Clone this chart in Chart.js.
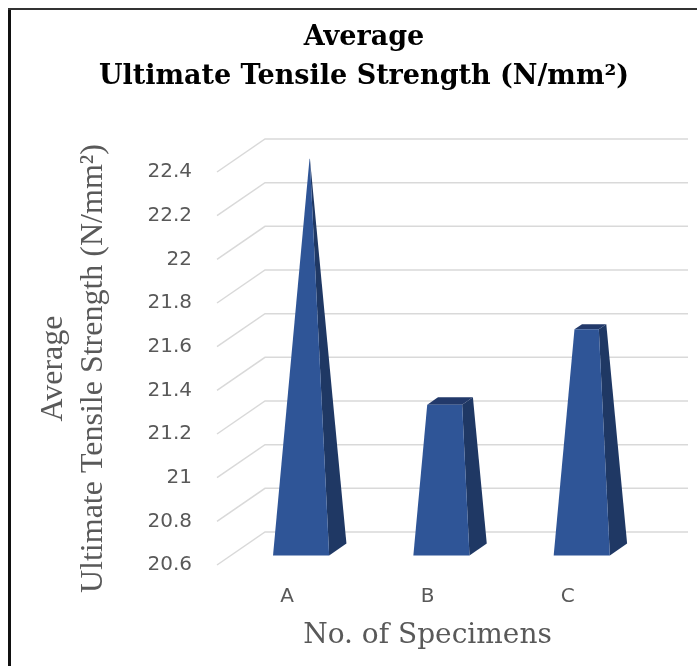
<!DOCTYPE html>
<html>
<head>
<meta charset="utf-8">
<script src="https://cdn.jsdelivr.net/npm/chart.js@4/dist/chart.umd.min.js"></script>
<style>
  html, body { margin: 0; padding: 0; background: #ffffff; }
  #wrap { width: 697px; height: 666px; position: relative; }
</style>
</head>
<body>
<div id="wrap"><canvas id="c" width="697" height="666"></canvas></div>
<script>
// ---- data ----
const categories = ['A', 'B', 'C'];
const avgUTS = [22.39, 21.28, 21.62];
const yTickValues = [20.6, 20.8, 21.0, 21.2, 21.4, 21.6, 21.8, 22.0, 22.2, 22.4];
const chartTitle = ['Average', 'Ultimate Tensile Strength (N/mm²)'];
const yTitle = ['Average', 'Ultimate Tensile Strength (N/mm²)'];
const xTitle = 'No. of Specimens';

// ---- styles ----
const DEPTH = { dx: 48, dy: -33 };      // depth of the 3D plot box
const BAR_F0 = 0.29, BAR_F1 = 0.65;     // bar depth range within the box
const GRID_COLOR = '#D9D9D9';
const FRONT = '#2F5597', SIDE = '#1F3864', TOP = '#22396A';
const TEXT_GRAY = '#595959';

const framePlugin = {
  id: 'frame',
  beforeDraw(chart) {
    const ctx = chart.ctx;
    ctx.save();
    ctx.fillStyle = '#ffffff';
    ctx.fillRect(0, 0, chart.width, chart.height);
    ctx.fillStyle = '#111111';
    ctx.fillRect(8, 8, 3, chart.height - 8);
    ctx.fillStyle = '#333333';
    ctx.fillRect(8, 8, chart.width - 8, 2);
    ctx.restore();
  }
};

const gridPlugin = {
  id: 'grid3d',
  beforeDatasetsDraw(chart) {
    const { ctx, chartArea, scales } = chart;
    const y = scales.y;
    ctx.save();
    ctx.strokeStyle = GRID_COLOR;
    ctx.lineWidth = 1.5;
    y.ticks.forEach(t => {
      const py = y.getPixelForValue(t.value);
      ctx.beginPath();
      ctx.moveTo(chartArea.left, py);
      ctx.lineTo(chartArea.left + DEPTH.dx, py + DEPTH.dy);
      ctx.lineTo(chartArea.right + DEPTH.dx + 2, py + DEPTH.dy);
      ctx.stroke();
    });
    ctx.restore();
  }
};

const pyramidPlugin = {
  id: 'pyramids',
  afterDatasetsDraw(chart) {
    const { ctx, scales } = chart;
    const y = scales.y;
    const meta = chart.getDatasetMeta(0);
    const vals = chart.data.datasets[0].data;
    const yb = y.getPixelForValue(y.min);
    const fm = (BAR_F0 + BAR_F1) / 2, hd = (BAR_F1 - BAR_F0) / 2;
    ctx.save();
    meta.data.forEach((bar, i) => {
      const v = vals[i];
      const cx = bar.x, hw = bar.width / 2;
      const H = yb - y.getPixelForValue(v);
      const s = 1 - (v - y.min) / (y.max - y.min);
      const P = (u, f, h) => [cx + u + f * DEPTH.dx, yb - h + f * DEPTH.dy];
      const poly = (pts, col) => {
        ctx.beginPath();
        ctx.moveTo(pts[0][0], pts[0][1]);
        for (let k = 1; k < pts.length; k++) ctx.lineTo(pts[k][0], pts[k][1]);
        ctx.closePath();
        ctx.fillStyle = col;
        ctx.fill();
      };
      // right side
      poly([P(hw, BAR_F0, 0), P(hw, BAR_F1, 0), P(hw * s, fm + hd * s, H), P(hw * s, fm - hd * s, H)], SIDE);
      // top
      poly([P(-hw * s, fm - hd * s, H), P(hw * s, fm - hd * s, H), P(hw * s, fm + hd * s, H), P(-hw * s, fm + hd * s, H)], TOP);
      // front
      poly([P(-hw, BAR_F0, 0), P(hw, BAR_F0, 0), P(hw * s, fm - hd * s, H), P(-hw * s, fm - hd * s, H)], FRONT);
    });
    ctx.restore();
  }
};

new Chart(document.getElementById('c'), {
  type: 'bar',
  data: {
    labels: categories,
    datasets: [{
      data: avgUTS,
      backgroundColor: 'rgba(0,0,0,0)',
      borderWidth: 0,
      barPercentage: 0.5,
      categoryPercentage: 0.8
    }]
  },
  options: {
    responsive: false,
    animation: false,
    layout: { padding: { left: 31, right: 0, top: 9, bottom: 0 } },
    plugins: {
      legend: { display: false },
      tooltip: { enabled: false },
      title: {
        display: true,
        text: chartTitle,
        color: '#000000',
        font: { family: 'DejaVu Serif', weight: 'bold', size: 27, lineHeight: 39 / 27 },
        padding: { top: 9.5, bottom: 75.5 }
      }
    },
    scales: {
      x: {
        afterFit: s => { s.height = 101; },
        grid: { display: false, drawTicks: false },
        border: { display: false },
        ticks: { padding: 20, color: TEXT_GRAY, font: { family: 'DejaVu Sans', size: 20 } },
        title: {
          display: true, text: xTitle, color: TEXT_GRAY,
          font: { family: 'DejaVu Serif', size: 28, lineHeight: 1.2 },
          padding: { top: 0, bottom: 13 }
        }
      },
      y: {
        min: 20.6,
        max: 22.4,
        afterBuildTicks: s => { s.ticks = yTickValues.map(v => ({ value: v })); },
        afterFit: s => { s.width = 186; },
        grid: { display: false, drawTicks: false },
        border: { display: false },
        ticks: {
          padding: 25, color: TEXT_GRAY,
          font: { family: 'DejaVu Sans', size: 20 },
          callback: v => String(Number(Number(v).toFixed(1)))
        },
        title: {
          display: true, text: yTitle, color: TEXT_GRAY,
          font: { family: 'Liberation Serif', size: 32, lineHeight: 40 / 32 },
          padding: { top: 3, bottom: 0 }
        }
      },
      y2: {
        position: 'right',
        afterFit: s => { s.width = 59; },
        grid: { display: false, drawTicks: false },
        border: { display: false },
        ticks: { display: false }
      }
    }
  },
  plugins: [framePlugin, gridPlugin, pyramidPlugin]
});
</script>
</body>
</html>
